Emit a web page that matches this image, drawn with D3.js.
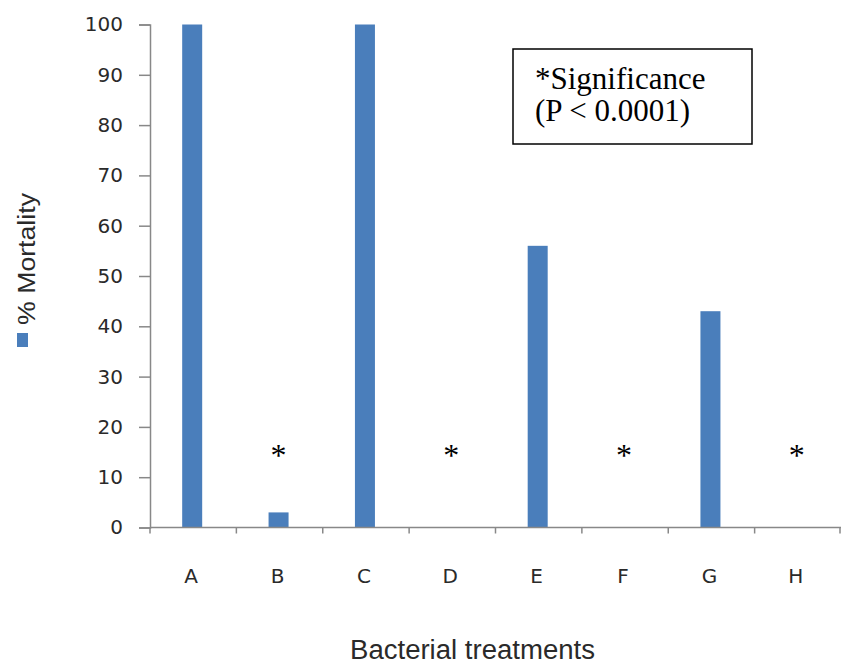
<!DOCTYPE html>
<html>
<head>
<meta charset="utf-8">
<script src="https://cdn.jsdelivr.net/npm/d3@7"></script>
<style>
  body { margin: 0; background: #fff; }
  svg { display: block; }
</style>
</head>
<body>
<svg id="chart" width="841" height="666"></svg>
<script>
// data
var categories = ["A", "B", "C", "D", "E", "F", "G", "H"];
var mortality = [100, 3, 100, 0, 56, 0, 43, 0];
var significant = ["B", "D", "F", "H"];
var yTicks = [0, 10, 20, 30, 40, 50, 60, 70, 80, 90, 100];

var svg = d3.select("#chart");

var x = d3.scaleBand().domain(categories).range([150, 841]).paddingInner(0).paddingOuter(0);
var y = d3.scaleLinear().domain([0, 100]).range([527.5, 24.5]);

var axisColor = "#888888";
var barColor = "#4a7ebb";
var sans = "DejaVu Sans, Verdana, sans-serif";
var serif = "Liberation Serif, Times New Roman, serif";

// y axis
var yAxis = svg.append("g")
  .attr("transform", "translate(150,0)")
  .call(d3.axisLeft(y).tickValues(yTicks).tickSize(11).tickPadding(16));
yAxis.select(".domain").attr("stroke", axisColor).attr("stroke-width", 1.5);
yAxis.selectAll(".tick line").attr("stroke", axisColor).attr("stroke-width", 1.5);
yAxis.selectAll(".tick text")
  .attr("font-family", sans)
  .attr("font-size", 20).attr("fill", "#2a2a2a");

// bars
var bw = 20;
svg.append("g").selectAll("rect")
  .data(categories)
  .enter().append("rect")
  .attr("x", function(d) { return x(d) + x.bandwidth() / 2 - bw / 2 - 1; })
  .attr("y", function(d, i) { return y(mortality[i]); })
  .attr("width", bw)
  .attr("height", function(d, i) { return y(0) - y(mortality[i]); })
  .attr("fill", barColor);

// x axis line and category boundary ticks
svg.append("line")
  .attr("x1", 150).attr("x2", 841)
  .attr("y1", y(0)).attr("y2", y(0))
  .attr("stroke", axisColor).attr("stroke-width", 1.5);
var bounds = categories.map(function(d) { return x(d); }).concat([x.range()[1] - 1]);
svg.append("g").selectAll("line")
  .data(bounds)
  .enter().append("line")
  .attr("x1", function(d) { return d; }).attr("x2", function(d) { return d; })
  .attr("y1", y(0)).attr("y2", y(0) + 6)
  .attr("stroke", axisColor).attr("stroke-width", 1.5);

// category labels
svg.append("g").selectAll("text")
  .data(categories)
  .enter().append("text")
  .attr("x", function(d) { return x(d) + x.bandwidth() / 2 - 2; })
  .attr("y", 583)
  .attr("text-anchor", "middle")
  .attr("font-family", sans)
  .attr("font-size", 20).attr("fill", "#2a2a2a")
  .text(function(d) { return d; });

// significance asterisks
svg.append("g").selectAll("text")
  .data(significant)
  .enter().append("text")
  .attr("x", function(d) { return x(d) + x.bandwidth() / 2 - 1; })
  .attr("y", 466)
  .attr("text-anchor", "middle")
  .attr("font-family", serif)
  .attr("font-size", 32).attr("fill", "#000")
  .text("*");

// axis title
svg.append("text")
  .attr("x", 350).attr("y", 659)
  .attr("font-family", "Liberation Sans, Arial, sans-serif")
  .attr("font-size", 27).attr("fill", "#2a2a2a")
  .attr("textLength", 245).attr("lengthAdjust", "spacingAndGlyphs")
  .text("Bacterial treatments");

// legend (rotated)
var leg = svg.append("g").attr("transform", "translate(35,347) rotate(-90)");
leg.append("rect").attr("x", 0).attr("y", -18).attr("width", 14).attr("height", 11).attr("fill", barColor);
leg.append("text")
  .attr("x", 22).attr("y", 0)
  .attr("font-family", "Liberation Sans, Arial, sans-serif")
  .attr("font-size", 23).attr("fill", "#2a2a2a")
  .attr("textLength", 132).attr("lengthAdjust", "spacingAndGlyphs")
  .text("% Mortality");

// significance note box
svg.append("rect")
  .attr("x", 513).attr("y", 49).attr("width", 239).attr("height", 95)
  .attr("fill", "#fff").attr("stroke", "#000").attr("stroke-width", 1.5);
var note = svg.append("text")
  .attr("font-family", serif)
  .attr("font-size", 31).attr("fill", "#000");
note.append("tspan").attr("x", 535).attr("y", 89).text("*Significance");
note.append("tspan").attr("x", 535).attr("y", 121).text("(P < 0.0001)");
</script>
</body>
</html>
